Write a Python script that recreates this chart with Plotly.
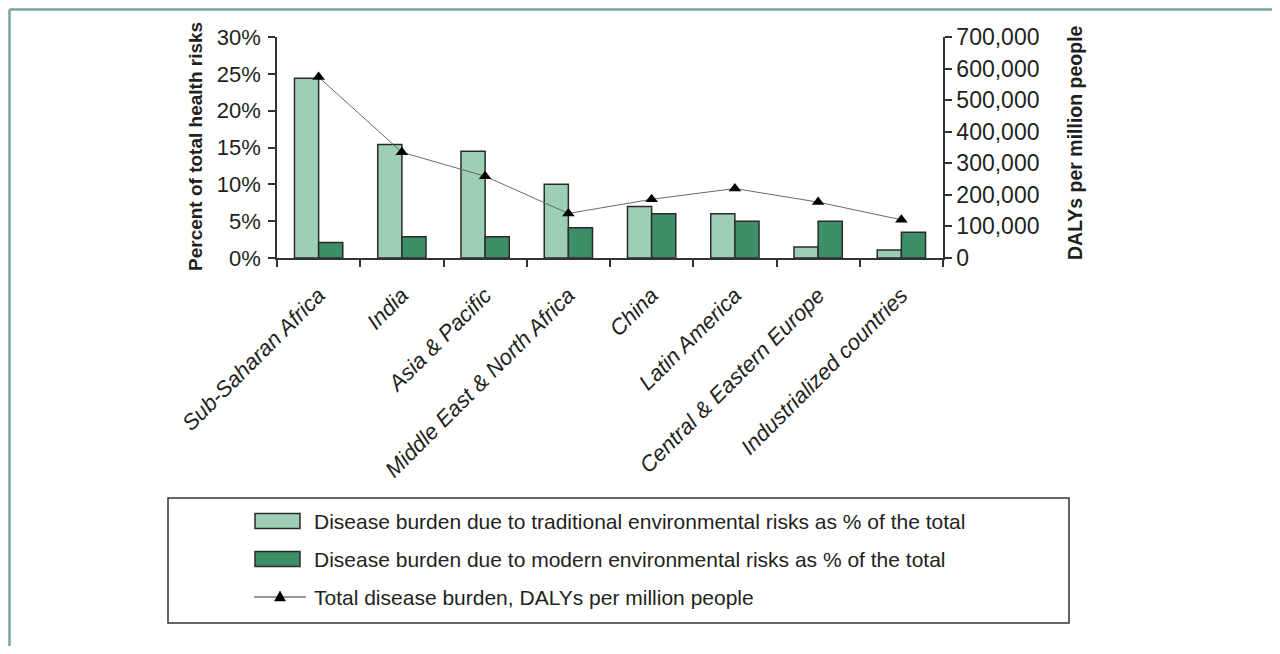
import plotly.graph_objects as go

# ---------------- data ----------------
categories = [
    "Sub-Saharan Africa", "India", "Asia & Pacific", "Middle East & North Africa",
    "China", "Latin America", "Central & Eastern Europe", "Industrialized countries",
]
traditional_pct = [24.4, 15.4, 14.5, 10.0, 7.0, 6.0, 1.5, 1.1]
modern_pct = [2.1, 2.9, 2.9, 4.1, 6.0, 5.0, 5.0, 3.5]
dalys_per_million = [573000, 335000, 259000, 141000, 186000, 220000, 177000, 121000]

left_ticks = [0, 5, 10, 15, 20, 25, 30]
left_tick_text = ["0%", "5%", "10%", "15%", "20%", "25%", "30%"]
right_ticks = [0, 100000, 200000, 300000, 400000, 500000, 600000, 700000]
right_tick_text = ["0", "100,000", "200,000", "300,000", "400,000", "500,000", "600,000", "700,000"]

legend_labels = [
    "Disease burden due to traditional environmental risks as % of the total",
    "Disease burden due to modern environmental risks as % of the total",
    "Total disease burden, DALYs per million people",
]

# ---------------- geometry (screen pixels; page body has an 8px margin) ----------------
OFF = 8
W, H = 1280 - OFF, 654 - 2 * OFF
L, R, T, B = 277, 943, 37, 258
def px(x):
    return (x - L) / (R - L)
def py(y):
    return (B - y) / (B - T)

FONT = "Liberation Sans"
INK = "#231f20"
LIGHT = "#9ccfb5"
DARK = "#3d8f68"
OUT = "#2a2a2a"
AX = "#333333"
FRAME = "#78a59e"

fig = go.Figure()
fig.add_bar(x=categories, y=traditional_pct, name=legend_labels[0], showlegend=False,
            marker=dict(color=LIGHT, line=dict(color=OUT, width=1.5)))
fig.add_bar(x=categories, y=modern_pct, name=legend_labels[1], showlegend=False,
            marker=dict(color=DARK, line=dict(color=OUT, width=1.5)))
fig.add_scatter(x=categories, y=dalys_per_million, yaxis="y2", name=legend_labels[2],
                showlegend=False, mode="lines+markers",
                line=dict(color="#6a6a6a", width=1),
                marker=dict(symbol="triangle-up", size=11, color="black"))

n = len(categories)
bounds = [i - 0.5 for i in range(n + 1)]

common_y = dict(showgrid=False, zeroline=False, ticklen=7, tickwidth=1.5, tickcolor=AX)

fig.update_layout(
    width=W, height=H,
    margin=dict(l=L - OFF, r=1280 - R, t=T - OFF, b=(H + OFF) - B, autoexpand=False),
    paper_bgcolor="white", plot_bgcolor="white",
    barmode="group", bargap=0.42, bargroupgap=0,
    showlegend=False,
    font=dict(family=FONT, color=INK),
    xaxis=dict(
        type="category", range=[-0.5, n - 0.5], tickson="boundaries",
        ticks="outside", ticklen=7, tickwidth=1.5, tickcolor=AX,
        showline=True, linecolor=AX, linewidth=1.5, showgrid=False,
        tickangle=-45, ticklabelstandoff=14,
        tickfont=dict(family=FONT, size=22, style="italic", color=INK),
    ),
    xaxis2=dict(
        type="linear", overlaying="x", anchor="y", side="bottom",
        range=[-0.5, n - 0.5], tickmode="array", tickvals=bounds,
        ticks="inside", ticklen=7, tickwidth=1.5, tickcolor=AX,
        showticklabels=False, showline=False, showgrid=False, zeroline=False,
    ),
    yaxis=dict(
        range=[0, 30], tickmode="array", tickvals=left_ticks, ticktext=left_tick_text,
        ticks="outside", showline=True, linecolor=AX, linewidth=1.5, ticklabelstandoff=3,
        tickfont=dict(family=FONT, size=22, color=INK), **common_y,
    ),
    yaxis2=dict(
        range=[0, 700000], overlaying="y", side="right", anchor="x",
        tickmode="array", tickvals=right_ticks, ticktext=right_tick_text,
        ticks="outside", showline=True, linecolor=AX, linewidth=1.5,
        tickfont=dict(family=FONT, size=23, color=INK), **common_y,
    ),
    yaxis3=dict(
        range=[0, 30], overlaying="y", side="left", anchor="x",
        tickmode="array", tickvals=left_ticks, ticks="inside",
        showticklabels=False, showline=False, **common_y,
    ),
    yaxis4=dict(
        range=[0, 700000], overlaying="y", side="right", anchor="x",
        tickmode="array", tickvals=right_ticks, ticks="inside",
        showticklabels=False, showline=False, **common_y,
    ),
)

annotations = [
    dict(text="<b>Percent of total health risks</b>", x=px(195), y=py(147),
         xref="paper", yref="paper", textangle=-90, showarrow=False,
         xanchor="center", yanchor="middle", font=dict(family=FONT, size=19, color=INK)),
    dict(text="<b>DALYs per million people</b>", x=px(1075), y=py(143),
         xref="paper", yref="paper", textangle=-90, showarrow=False,
         xanchor="center", yanchor="middle", font=dict(family=FONT, size=19.5, color=INK)),
]
shapes = [
    # outer teal frame (kept inside the figure area)
    dict(type="line", xref="paper", yref="paper", x0=px(9.5), x1=px(1300), y0=py(9.5), y1=py(9.5),
         line=dict(color=FRAME, width=2.5)),
    dict(type="line", xref="paper", yref="paper", x0=px(9.5), x1=px(9.5), y0=py(9.5), y1=py(670),
         line=dict(color=FRAME, width=2.5)),
    # legend box
    dict(type="rect", xref="paper", yref="paper", x0=px(168), x1=px(1069), y0=py(623), y1=py(498),
         line=dict(color=AX, width=1.5), fillcolor="rgba(0,0,0,0)"),
]
rows = [521, 559, 597]
for i, color in enumerate([LIGHT, DARK]):
    yc = rows[i]
    shapes.append(dict(type="rect", xref="paper", yref="paper",
                       x0=px(255), x1=px(300), y0=py(yc + 7.5), y1=py(yc - 7.5),
                       fillcolor=color, line=dict(color=OUT, width=1.5)))
yc = rows[2]
shapes.append(dict(type="line", xref="paper", yref="paper", x0=px(254), x1=px(306),
                   y0=py(yc), y1=py(yc), line=dict(color="#333", width=1.2)))
shapes.append(dict(type="path", xref="paper", yref="paper",
                   path=f"M {px(280)},{py(yc - 6)} L {px(285.5)},{py(yc + 4)} L {px(274.5)},{py(yc + 4)} Z",
                   fillcolor="black", line=dict(color="black", width=0.5)))
for i, label in enumerate(legend_labels):
    annotations.append(dict(text=label, x=px(312), y=py(rows[i]), xref="paper", yref="paper",
                            showarrow=False, xanchor="left", yanchor="middle",
                            font=dict(family=FONT, size=21, color=INK)))

fig.update_layout(annotations=annotations, shapes=shapes)
fig.write_html("out.html")
